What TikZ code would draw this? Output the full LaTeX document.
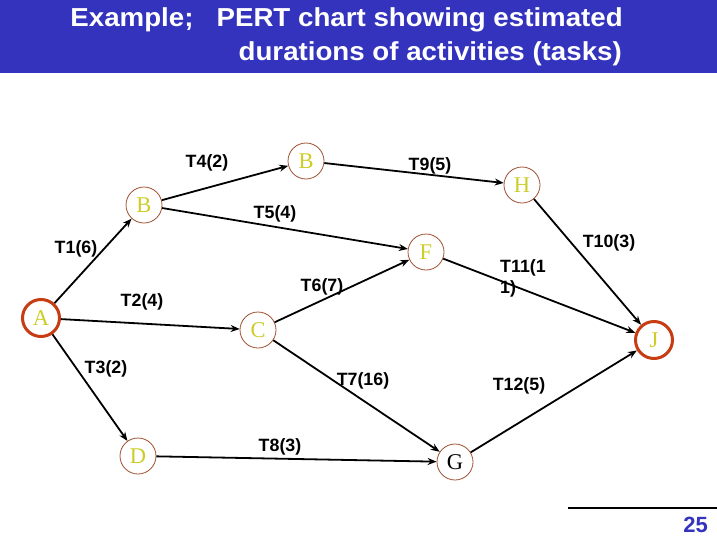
\documentclass[tikz,border=0pt]{standalone}
\usepackage{fontspec}
\setmainfont{Liberation Sans}
\newfontfamily\serifnode{Liberation Serif}
\usetikzlibrary{arrows.meta}
\definecolor{titleblue}{RGB}{51,51,190}
\definecolor{nodeyellow}{RGB}{205,205,40}
\definecolor{ringbrown}{RGB}{160,80,50}
\definecolor{ringred}{RGB}{200,60,20}
\tikzset{
  ev/.style={circle, draw=ringbrown, line width=0.8pt, fill=white, minimum size=36pt, inner sep=0pt,
    font=\serifnode\fontsize{22.5}{22.5}\selectfont, text=nodeyellow},
  evmain/.style={ev, draw=ringred, line width=3pt, minimum size=37pt},
  act/.style={line width=1.8pt, -{Stealth[length=9pt,width=7pt]}},
  lbl/.style={font=\bfseries\fontsize{17.8}{17.8}\selectfont, inner sep=0pt},
  ttl/.style={font=\bfseries\fontsize{26}{26}\selectfont, text=white, inner sep=0pt, anchor=base east, xscale=1.065},
}
\begin{document}
\begin{tikzpicture}[x=1pt,y=-1pt]
\useasboundingbox (0,0) rectangle (717,538);
\fill[titleblue] (0,0) rectangle (717,73);
\node[ttl] (t1) at (623,27) {Example;\ \ \ PERT chart showing estimated};
\node[ttl] (t2) at (622,60) {durations of activities (tasks)};

\node[evmain] (A) at (41,318) {A};
\node[ev] (B1) at (144,205) {B};
\node[ev] (B2) at (306,161) {B};
\node[ev] (H) at (522,185) {H};
\node[ev] (F) at (426,252) {F};
\node[ev] (C) at (258,330) {C};
\node[evmain] (J) at (654,340) {J};
\node[ev] (D) at (138,456) {D};
\node[ev, text=black] (G) at (455,462) {G};

\draw[act] (A) -- (B1);
\draw[act] (A) -- (C);
\draw[act] (A) -- (D);
\draw[act] (B1) -- (B2);
\draw[act] (B1) -- (F);
\draw[act] (B2) -- (H);
\draw[act] (C) -- (F);
\draw[act] (C) -- (G);
\draw[act] (D) -- (G);
\draw[act] (H) -- (J);
\draw[act] (F) -- (J);
\draw[act] (G) -- (J);

\node[lbl] (l1) at (76,249) {T1(6)};
\node[lbl] (l2) at (142,302) {T2(4)};
\node[lbl] (l3) at (106,369) {T3(2)};
\node[lbl] (l4) at (207,163) {T4(2)};
\node[lbl] (l5) at (275,214) {T5(4)};
\node[lbl] (l9) at (430,166) {T9(5)};
\node[lbl] (l6) at (322,287) {T6(7)};
\node[lbl] (l7) at (363,381) {T7(16)};
\node[lbl] (l8) at (280,447) {T8(3)};
\node[lbl] (l10) at (609,243) {T10(3)};
\node[lbl, anchor=west] (l11a) at (500,268) {T11(1};
\node[lbl, anchor=west] (l11b) at (500,289) {1)};
\node[lbl] (l12) at (519,386) {T12(5)};

\coordinate (f1) at (568,508);
\coordinate (f2) at (717,508);
\draw[line width=2pt] (f1) -- (f2);
\node[font=\bfseries\fontsize{22}{22}\selectfont, text=titleblue, inner sep=0pt, anchor=east] (pg) at (708,525) {25};
\end{tikzpicture}
\end{document}
